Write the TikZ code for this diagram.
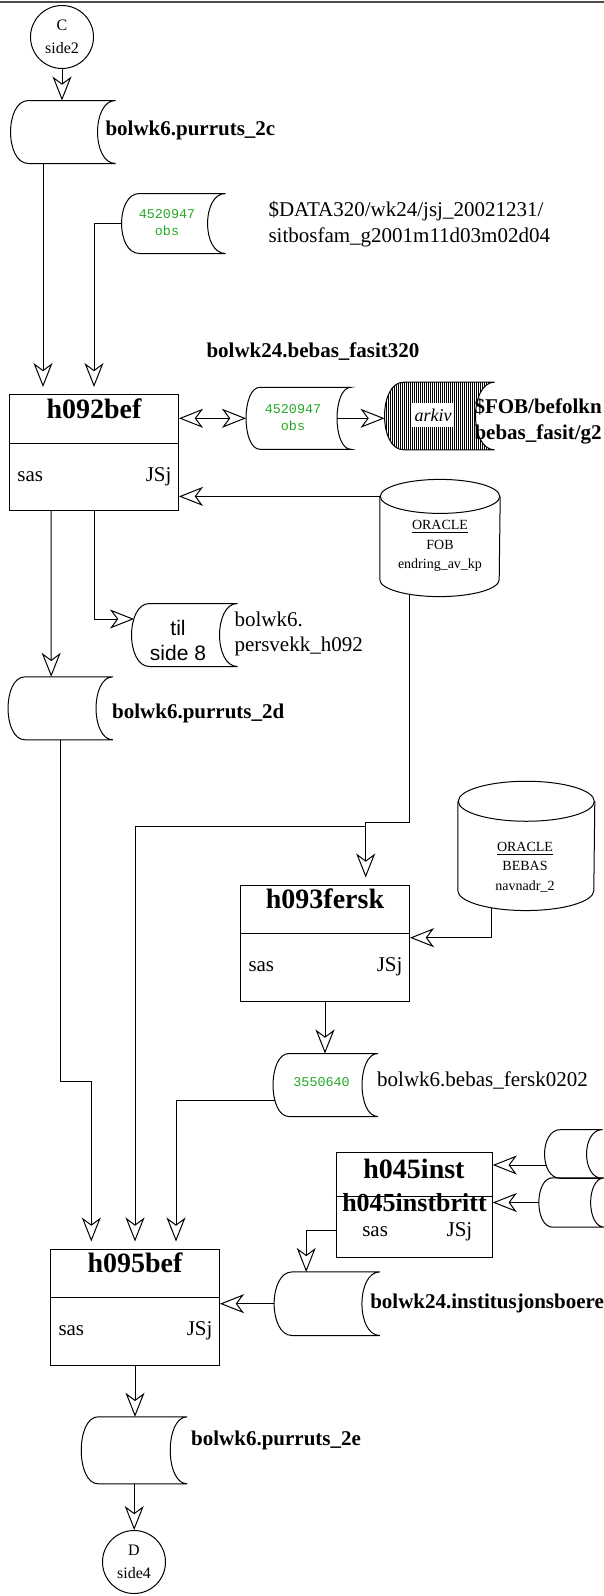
\documentclass[tikz,border=0pt]{standalone}
\usepackage{fontspec}
\setmainfont{Liberation Serif}
\setsansfont{Liberation Sans}
\setmonofont{Liberation Mono}
\usepackage{tikz}
\usetikzlibrary{arrows.meta}
\usetikzlibrary{calc}
\usetikzlibrary{positioning}
\usetikzlibrary{patterns.meta}

% stored data outline round a named node (#2), arc depth #3
\newcommand{\storeline}[3][]{%
  \draw[#1] ($(#2.north west)+(#3,0)$) -- (#2.north east)
  .. controls ($(#2.north east)+(-1.33*#3,0)$) and ($(#2.south east)+(-1.33*#3,0)$) .. (#2.south east)
  -- ($(#2.south west)+(#3,0)$)
  .. controls ($(#2.south west)+(-0.33*#3,0)$) and ($(#2.north west)+(-0.33*#3,0)$) .. cycle;}
% database cylinder round a named node (#1), radii #2 and #3
\newcommand{\dbline}[3]{%
  \draw ($(#1.north west)+(0pt,-#3)$) -- ($(#1.south west)+(0pt,#3)$)
  arc[start angle=180,end angle=360,x radius=#2,y radius=#3]
  -- ($(#1.north east)+(0pt,-#3)$);
  \draw ($(#1.north)+(0pt,-#3)$) ellipse[x radius=#2,y radius=#3];}
% divider, title and owners of a program box
\newcommand{\procparts}[2]{%
  \draw ($(#1.north west)+(0,49.3)$) -- ($(#1.north east)+(0,49.3)$);
  \node[ptitle,anchor=base] (#1-t) at ($(#1.north)+(0,24.3)$) {#2};
  \node[ptext,anchor=base west] (#1-s) at ($(#1.north west)+(8,87)$) {sas};
  \node[ptext,anchor=base east] (#1-j) at ($(#1.north east)+(-7,87)$) {JSj};}

\begin{document}
\begin{tikzpicture}[x=0.5pt,y=-0.5pt,line width=0.5pt]
  \colorlet{obscol}{green!60!black!85!white}
  \colorlet{rulecol}{black!70}
  \tikzset{>={Stealth[open,length=12pt,width=9.5pt,inset=3.5pt]}} % hollow arrow heads
  \tikzstyle{flow}=[->]
  \tikzstyle{flowin}=[flow,shorten >=3.5pt]
  \tikzstyle{process}=[draw,minimum width=84.5pt,minimum height=58pt,inner sep=0pt]
  \tikzstyle{store}=[minimum width=52pt,minimum height=31pt,inner sep=0pt]
  \tikzstyle{database}=[inner sep=0pt]
  \tikzstyle{offpage}=[draw,circle,minimum size=31.5pt,inner sep=0pt,align=center,font=\fontsize{8}{11.5}\selectfont]
  \tikzstyle{lbl}=[inner sep=0pt,font=\fontsize{10.5}{13}\selectfont\bfseries]
  \tikzstyle{filetxt}=[inner sep=0pt,align=left,font=\fontsize{10.5}{12.8}\selectfont]
  \tikzstyle{ptext}=[inner sep=0pt,font=\fontsize{10.5}{13}\selectfont]
  \tikzstyle{ptitle}=[inner sep=0pt,font=\fontsize{14}{16}\selectfont\bfseries]
  \tikzstyle{obs}=[inner sep=0pt,align=center,obscol,font=\fontsize{6.7}{8.5}\selectfont\ttfamily]
  \tikzstyle{oracle}=[inner sep=0pt,align=center,font=\fontsize{7}{9.8}\selectfont]

  \useasboundingbox (0,0) rectangle (604,1596);
  \clip (0,0) rectangle (604,1596);
  \draw[rulecol,line width=1pt] (0,2) -- (604,2);

  % Off-page connectors
  \node[offpage] (C) at (62,37) {C\\side2};
  \node[offpage] (D) at (134,1562) {D\\side4};

  % Stored data
  \node[store] (purruts2c) at (63,132) {};
  \node[store,minimum width=51.5pt,minimum height=29.5pt] (sitbos) at (173.5,223.5) {};
  \node[store,minimum height=30.5pt] (obs) at (298.5,418.3) {};
  \node[store,minimum width=54.5pt,minimum height=33.3pt] (arkiv) at (439.5,416) {};
  \node[store,minimum width=52.5pt] (tilside8) at (184.5,635) {};
  \node[store] (purruts2d) at (60.5,708.3) {};
  \node[store] (fersk0202) at (325.5,1085) {};
  \node[store,minimum width=28.5pt,minimum height=23.9pt] (stubA) at (573.5,1154) {};
  \node[store,minimum width=32.4pt,minimum height=24.2pt] (stubB) at (571.7,1202.5) {};
  \node[store,minimum width=52.4pt,minimum height=31.3pt] (inst) at (327,1303.7) {};
  \node[store,minimum width=52.5pt,minimum height=33pt] (purruts2e) at (134.2,1450.3) {};

  \storeline{purruts2c}{18}
  \storeline{sitbos}{18}
  \storeline{obs}{14}
  \storeline[pattern={Lines[angle=90,distance=1pt,line width=0.5pt]}]{arkiv}{19}
  \storeline{tilside8}{18}
  \storeline{purruts2d}{17}
  \storeline{fersk0202}{16}
  \storeline{stubA}{16}
  \storeline{stubB}{14}
  \storeline{inst}{18}
  \storeline{purruts2e}{17}

  % Databases
  \node[database,minimum width=59.7pt,minimum height=58.1pt] (fob) at (440,538) {};
  \dbline{fob}{29.85pt}{8.5pt}
  \node[oracle] (fob-txt) at (440,546) {\underline{ORACLE}\\FOB\\endring\_av\_kp};
  \node[database,minimum width=68pt,minimum height=64.15pt] (bebas) at (526.3,845.9) {};
  \dbline{bebas}{34pt}{10pt}
  \node[oracle] (bebas-txt) at (525,867) {\underline{ORACLE}\\BEBAS\\navnadr\_2};

  % Programs
  \node[process] (h092bef) at (94,452.5) {};
  \procparts{h092bef}{h092bef}
  \node[process] (h093fersk) at (325,943) {};
  \procparts{h093fersk}{h093fersk}
  \node[process] (h095bef) at (135,1307) {};
  \procparts{h095bef}{h095bef}
  \node[process,minimum width=78pt,minimum height=52.5pt] (h045) at (414.3,1205.2) {};
  \node[ptitle,anchor=base] (h045-t) at (414,1178.3) {h045inst};
  \node[ptitle,anchor=base,font=\fontsize{13}{15}\selectfont\bfseries] (h045-b) at (414.5,1211.7) {h045instbritt};
  \draw ($(h045.north west)+(0,44)$) -- ($(h045.north east)+(0,44)$);
  \node[ptext,anchor=base west] (h045-s) at ($(h045.north west)+(26,84)$) {sas};
  \node[ptext,anchor=base east] (h045-j) at ($(h045.north east)+(-20,84)$) {JSj};

  % Texts
  \node[lbl,anchor=base west] (purruts2c-lbl) at (105,135) {bolwk6.purruts\_2c};
  \node[obs] (sitbos-txt) at (167,223) {4520947\\obs};
  \node[filetxt,anchor=west] (sitbos-lbl) at (268,224) {\$DATA320/wk24/jsj\_20021231/\\sitbosfam\_g2001m11d03m02d04};
  \node[lbl,anchor=base west] (fasit-lbl) at (206,357) {bolwk24.bebas\_fasit320};
  \node[obs] (obs-txt) at (293,418) {4520947\\obs};
  \node[fill=white,inner sep=0pt,minimum width=21pt,minimum height=12pt,font=\fontsize{9}{10}\selectfont\itshape] (arkiv-txt) at (433,415) {arkiv};
  \node[lbl,align=left,anchor=west] (arkiv-lbl) at (474,421) {\$FOB/befolkn\\bebas\_fasit/g2};
  \node[inner sep=0pt,align=center,font=\sffamily\fontsize{10.5}{12.5}\selectfont] (til-txt) at (178,640) {til\\side 8};
  \node[filetxt,anchor=west] (til-lbl) at (234,634) {bolwk6.\\persvekk\_h092};
  \node[lbl,anchor=base west] (purruts2d-lbl) at (111.7,718.3) {bolwk6.purruts\_2d};
  \node[obs] (fersk-txt) at (321.6,1082) {3550640};
  \node[ptext,anchor=base west] (fersk-lbl) at (376.7,1086) {bolwk6.bebas\_fersk0202};
  \node[lbl,anchor=base west] (inst-lbl) at (369.8,1308.3) {bolwk24.institusjonsboere};
  \node[lbl,anchor=base west] (purruts2e-lbl) at (190.7,1445) {bolwk6.purruts\_2e};

  % Flows
  \draw[flow] (C.south) -- (C.south |- purruts2c.north);
  \draw[flowin] ($(purruts2c.south)+(-20,0)$) -- ($(h092bef.north)+(-51,0)$);
  \draw[flowin] (sitbos.west) -| (h092bef.north);
  \draw[<->] (obs.west) -- (obs.west -| h092bef.east);
  \draw[flow] ($(obs.east)+(-14,0)$) -- (obs.east -| arkiv.west);
  \coordinate (fobin) at ($(fob.north west)+(0pt,-8.5pt)$);
  \draw[flow] (fobin) -- (fobin -| h092bef.east);
  \draw[flow] ($(h092bef.south)+(-43,0)$) -- ($(purruts2d.north)+(-9.3,0)$);
  \coordinate (tilin) at ($(tilside8.west)+(2.5,-16)$);
  \draw[flow] (h092bef.south) |- (tilin);
  \coordinate (fobout) at ($(fob.south)+(-31,-2.5)$);
  \coordinate (fobturn) at (365.7,822);
  \draw[flowin] (fobout) |- (fobturn) -- (fobturn |- h093fersk.north);
  \draw[flowin] ($(fobturn)+(0,4)$) -| (h095bef.north);
  \coordinate (bebasout) at ($(bebas.south)+(-34.6,-2.8)$);
  \draw[flow] (bebasout) |- ($(h093fersk.east)+(0,-5.3)$);
  \draw[flow] (h093fersk.south) -- (h093fersk.south |- fersk0202.north);
  \coordinate (turn2d) at (91.3,1081);
  \draw[flowin] (purruts2d.south) |- (turn2d) -- (turn2d |- h095bef.north);
  \coordinate (ferskout) at ($(fersk0202.west)+(2,15)$);
  \draw[flowin] (ferskout) -| ($(h095bef.north)+(41,0)$);
  \coordinate (stubAout) at ($(stubA.west)+(1,11)$);
  \draw[flow] (stubAout) -- (stubAout -| h045.east);
  \draw[flow] (stubB.west) -- (stubB.west -| h045.east);
  \draw[flow] ($(h045.west)+(0,25)$) -| ($(inst.north)+(-20.8,0)$);
  \draw[flow] (inst.west) -- (inst.west -| h095bef.east);
  \draw[flow] (h095bef.south) -- (h095bef.south |- purruts2e.north);
  \draw[flow] (purruts2e.south) -- (purruts2e.south |- D.north);
\end{tikzpicture}
\end{document}
